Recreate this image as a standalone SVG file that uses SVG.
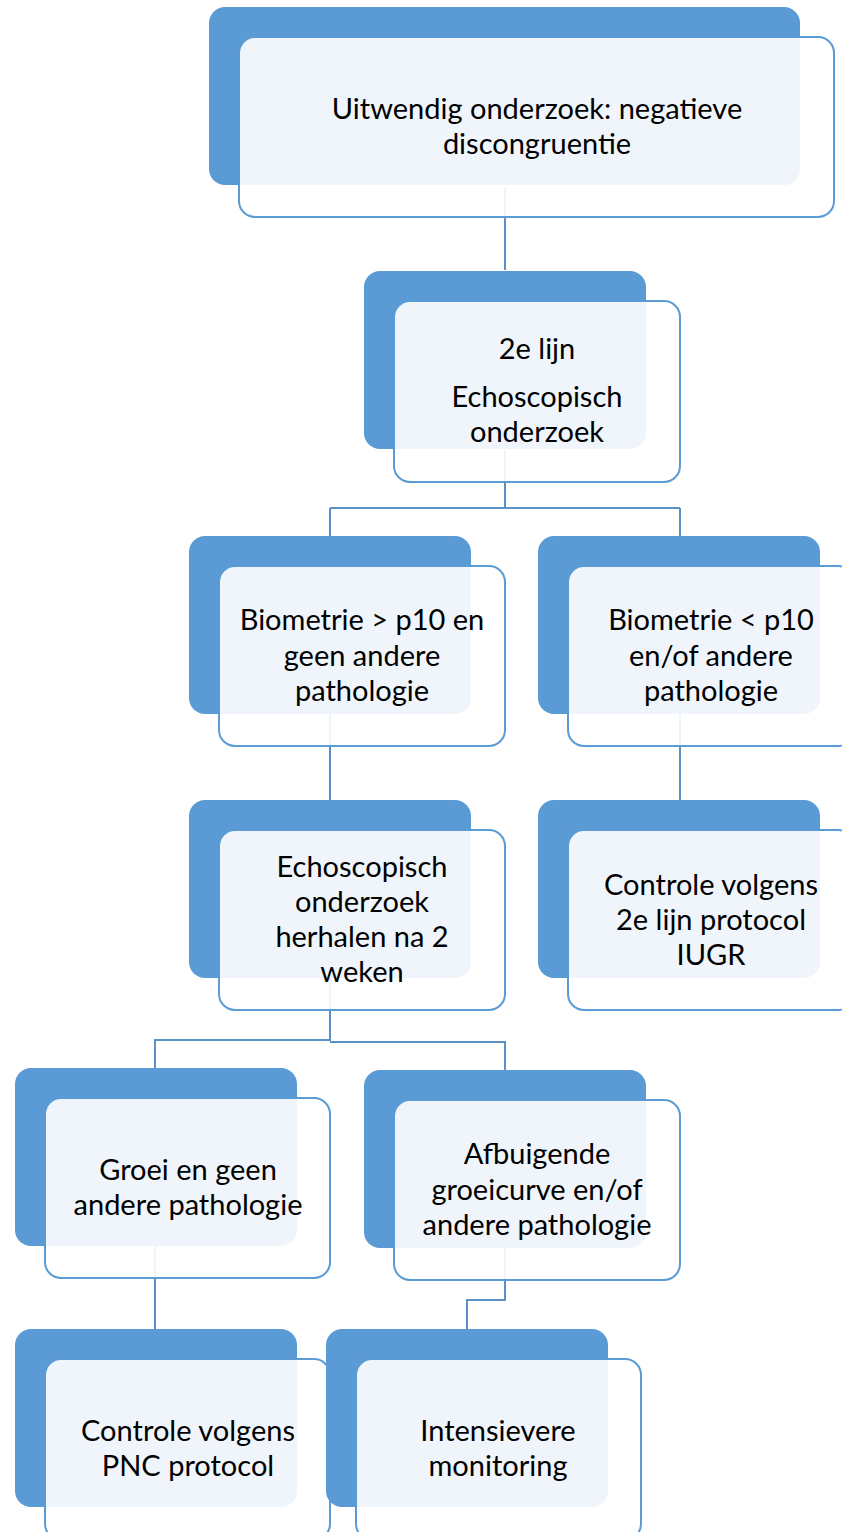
<svg xmlns="http://www.w3.org/2000/svg" width="842" height="1532" viewBox="0 0 842 1532">
<style>
.bk{fill:#5b9bd5}
.fr{fill:#ffffff;fill-opacity:0.9;stroke:#5b9bd5;stroke-width:2}
.t{font-family:Lato,"Open Sans","Liberation Sans",sans-serif;font-size:29px;fill:#000;text-anchor:middle}
.c{fill:none;stroke:#5a8fc8;stroke-width:2}
</style>
<rect width="842" height="1532" fill="#ffffff"/>
<g id="connectors">
<path class="c" d="M505 188V270"/>
<path class="c" d="M505 450V508M330 508H680M330 508V537M680 508V537"/>
<path class="c" d="M330 714V800M680 714V800"/>
<path class="c" d="M330 978V1041M330 1040H155V1068M330 1042H505V1070"/>
<path class="c" d="M155 1246V1329M505 1248V1300H467V1330"/>
</g>
<g id="n1">
<rect class="bk" x="209" y="7" width="591" height="178" rx="16"/>
<rect class="fr" x="239" y="37" width="595" height="180" rx="16"/>
<text class="t" x="537" y="119">Uitwendig onderzoek: negatieve</text>
<text class="t" x="537" y="154">discongruentie</text>
</g>
<g id="n2">
<rect class="bk" x="364" y="271" width="282" height="178" rx="16"/>
<rect class="fr" x="394" y="301" width="286" height="181" rx="16"/>
<text class="t" x="537" y="359">2e lijn</text>
<text class="t" x="537" y="407">Echoscopisch</text>
<text class="t" x="537" y="442">onderzoek</text>
</g>
<g id="n3a">
<rect class="bk" x="189" y="536" width="282" height="178" rx="16"/>
<rect class="fr" x="219" y="566" width="286" height="180" rx="16"/>
<text class="t" x="362" y="630">Biometrie &gt; p10 en</text>
<text class="t" x="362" y="666">geen andere</text>
<text class="t" x="362" y="701">pathologie</text>
</g>
<g id="n3b">
<rect class="bk" x="538" y="536" width="282" height="178" rx="16"/>
<rect class="fr" x="568" y="566" width="286" height="180" rx="16"/>
<text class="t" x="711" y="630">Biometrie &lt; p10</text>
<text class="t" x="711" y="666">en/of andere</text>
<text class="t" x="711" y="701">pathologie</text>
</g>
<g id="n4a">
<rect class="bk" x="189" y="800" width="282" height="178" rx="16"/>
<rect class="fr" x="219" y="830" width="286" height="180" rx="16"/>
<text class="t" x="362" y="877">Echoscopisch</text>
<text class="t" x="362" y="912">onderzoek</text>
<text class="t" x="362" y="947">herhalen na 2</text>
<text class="t" x="362" y="982">weken</text>
</g>
<g id="n4b">
<rect class="bk" x="538" y="800" width="282" height="178" rx="16"/>
<rect class="fr" x="568" y="830" width="286" height="180" rx="16"/>
<text class="t" x="711" y="895">Controle volgens</text>
<text class="t" x="711" y="930">2e lijn protocol</text>
<text class="t" x="711" y="965">IUGR</text>
</g>
<g id="n5a">
<rect class="bk" x="15" y="1068" width="282" height="178" rx="16"/>
<rect class="fr" x="45" y="1098" width="285" height="180" rx="16"/>
<text class="t" x="188" y="1180">Groei en geen</text>
<text class="t" x="188" y="1215">andere pathologie</text>
</g>
<g id="n5b">
<rect class="bk" x="364" y="1070" width="282" height="178" rx="16"/>
<rect class="fr" x="394" y="1100" width="286" height="180" rx="16"/>
<text class="t" x="537" y="1164">Afbuigende</text>
<text class="t" x="537" y="1200">groeicurve en/of</text>
<text class="t" x="537" y="1235">andere pathologie</text>
</g>
<g id="n6a">
<rect class="bk" x="15" y="1329" width="282" height="178" rx="16"/>
<rect class="fr" x="45" y="1359" width="285" height="181" rx="16"/>
<text class="t" x="188" y="1441">Controle volgens</text>
<text class="t" x="188" y="1476">PNC protocol</text>
</g>
<g id="n6b">
<rect class="bk" x="326" y="1329" width="282" height="178" rx="16"/>
<rect class="fr" x="356" y="1359" width="285" height="181" rx="16"/>
<text class="t" x="498" y="1441">Intensievere</text>
<text class="t" x="498" y="1476">monitoring</text>
</g>
</svg>
